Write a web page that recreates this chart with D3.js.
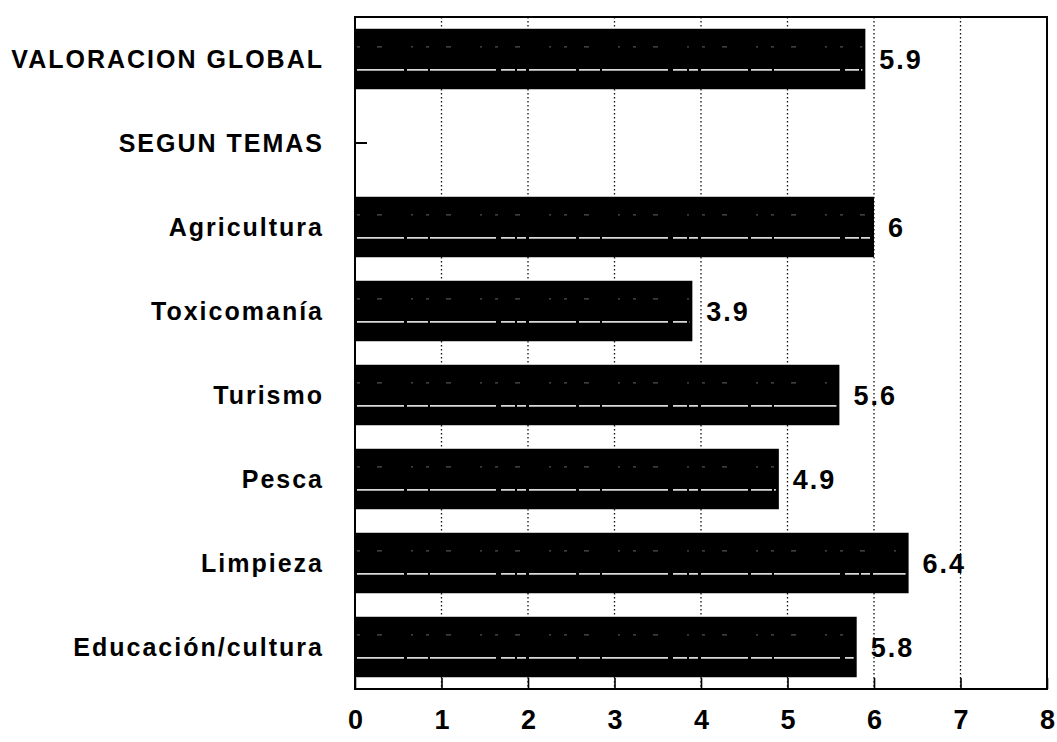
<!DOCTYPE html>
<html>
<head>
<meta charset="utf-8">
<script src="https://cdn.jsdelivr.net/npm/d3@7"></script>
<style>
body { margin: 0; background: #fff; }
text { font-family: "Liberation Sans", Arial, sans-serif; fill: #000; }
</style>
</head>
<body>
<script>
var categories = ["VALORACION GLOBAL", "SEGUN TEMAS", "Agricultura", "Toxicomanía", "Turismo", "Pesca", "Limpieza", "Educación/cultura"];
var values = [5.9, null, 6, 3.9, 5.6, 4.9, 6.4, 5.8];
var valueLabels = ["5.9", "", "6", "3.9", "5.6", "4.9", "6.4", "5.8"];
var xTicks = [0, 1, 2, 3, 4, 5, 6, 7, 8];

var w = 1057;
var h = 742;
// plot box (window.top is reserved, so no "top" here)
var pLeft = 355, pRight = 1047, pTop = 17, pBottom = 689;

var svg = d3.select("body")
			.append("svg")
			.attr("width", w)
			.attr("height", h);

var x = d3.scaleLinear()
	.domain([0, 8])
	.range([pLeft, pRight]);

var y = d3.scaleBand()
	.domain(categories)
	.range([pTop, pBottom])
	.paddingInner(0.28)
	.paddingOuter(0.14);

// dotted grid
svg.selectAll("line.grid")
	.data(xTicks.slice(1, 8))
	.enter()
	.append("line")
	.attr("class", "grid")
	.attr("x1", function(d) { return x(d); })
	.attr("x2", function(d) { return x(d); })
	.attr("y1", pTop)
	.attr("y2", pBottom)
	.attr("stroke", "#111")
	.attr("stroke-width", 1.3)
	.attr("stroke-dasharray", "1.5,2.5");

// left axis: category labels + small inner ticks
var yAxis = svg.append("g")
	.attr("transform", "translate(" + pLeft + ",0)")
	.call(d3.axisLeft(y).tickSize(-12).tickPadding(33));
yAxis.select(".domain").remove();
yAxis.selectAll(".tick line").attr("stroke", "#000").attr("stroke-width", 2);
yAxis.selectAll("text")
	.style("font-size", "25px")
	.style("font-weight", "bold")
	.style("letter-spacing", "2px")
	.attr("dx", "2px")
	.attr("dy", "0.36em");

// bars
var rows = categories.map(function(c, i) { return { cat: c, v: values[i], lab: valueLabels[i] }; })
	.filter(function(d) { return d.v != null; });

svg.selectAll("rect.bar")
	.data(rows)
	.enter()
	.append("rect")
	.attr("class", "bar")
	.attr("x", x(0))
	.attr("y", function(d) { return y(d.cat); })
	.attr("width", function(d) { return x(d.v) - x(0); })
	.attr("height", y.bandwidth())
	.attr("fill", "#000");

// scan streaks inside the bars
[0.3, 0.68].forEach(function(f, k) {
	svg.selectAll("line.streak" + k)
		.data(rows)
		.enter()
		.append("line")
		.attr("x1", x(0) + 2)
		.attr("x2", function(d) { return x(d.v) - 3; })
		.attr("y1", function(d) { return y(d.cat) + y.bandwidth() * f; })
		.attr("y2", function(d) { return y(d.cat) + y.bandwidth() * f; })
		.attr("stroke", "#fff")
		.attr("stroke-width", k == 0 ? 1 : 1.6)
		.attr("stroke-opacity", k == 0 ? 0.4 : 0.85)
		.attr("stroke-dasharray", k == 0 ? "3,17,5,29,2,13" : "47,3,21,2,66,5,14,2,9,3");
});

svg.selectAll("text.val")
	.data(rows)
	.enter()
	.append("text")
	.attr("class", "val")
	.text(function(d) { return d.lab; })
	.attr("x", function(d) { return x(d.v) + 14; })
	.attr("y", function(d) { return y(d.cat) + y.bandwidth() / 2; })
	.attr("dy", "0.36em")
	.style("font-size", "27px")
	.style("font-weight", "bold")
	.style("letter-spacing", "2px");

// bottom axis with inner ticks
var xAxis = svg.append("g")
	.attr("transform", "translate(0," + pBottom + ")")
	.call(d3.axisBottom(x).tickValues(xTicks).tickSize(-11).tickPadding(21).tickFormat(d3.format("d")));
xAxis.select(".domain").remove();
xAxis.selectAll(".tick line").attr("stroke", "#000").attr("stroke-width", 1.6);
xAxis.selectAll("text")
	.style("font-size", "27px")
	.style("font-weight", "bold");

// frame
svg.append("rect")
	.attr("x", pLeft)
	.attr("y", pTop)
	.attr("width", pRight - pLeft)
	.attr("height", pBottom - pTop)
	.attr("fill", "none")
	.attr("stroke", "#000")
	.attr("stroke-width", 2);
</script>
</body>
</html>
